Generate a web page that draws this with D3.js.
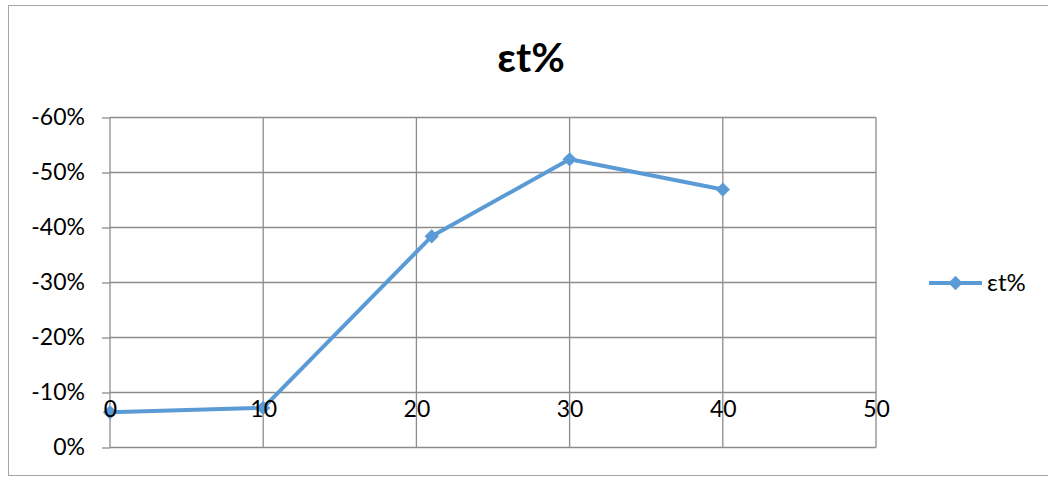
<!DOCTYPE html>
<html>
<head>
<meta charset="utf-8">
<script src="https://cdn.jsdelivr.net/npm/d3@7"></script>
<style>
  html, body { margin: 0; padding: 0; background: #fff; }
  svg { display: block; font-family: Lato, "Open Sans", sans-serif; }
</style>
</head>
<body>
<svg id="chart" width="1048" height="477"></svg>
<script>
// Strain values (εt%) against x
const xValues = [0, 10, 21, 30, 40];
const strainValues = [-0.064, -0.072, -0.384, -0.524, -0.469];
const yTicks = [0, -0.1, -0.2, -0.3, -0.4, -0.5, -0.6];
const xTicks = [0, 10, 20, 30, 40, 50];
const seriesName = "εt%";
const chartTitle = "εt%";

const svg = d3.select("#chart");
const color = "#5B9BD5";
const gridColor = "#8c8c8c";

// chart frame
svg.append("rect")
  .attr("x", 8.5).attr("y", 5.5)
  .attr("width", 1060).attr("height", 470)
  .attr("fill", "#fff").attr("stroke", "#a6a6a6").attr("stroke-width", 1);

const x = d3.scaleLinear().domain([0, 50]).range([110, 876]);
// reversed: 0% at the bottom, -60% at the top
const y = d3.scaleLinear().domain([0, -0.6]).range([447.5, 117.5]);

// gridlines
const grid = svg.append("g");
grid.selectAll("line.h").data(yTicks).join("line")
  .attr("x1", x(0)).attr("x2", x(50))
  .attr("y1", d => y(d)).attr("y2", d => y(d))
  .attr("stroke", gridColor).attr("stroke-width", 1.3);
grid.selectAll("line.v").data(xTicks).join("line")
  .attr("x1", d => x(d)).attr("x2", d => x(d))
  .attr("y1", y(-0.6)).attr("y2", y(0))
  .attr("stroke", gridColor).attr("stroke-width", 1.3);

// vertical axis
const yAxis = svg.append("g")
  .attr("transform", `translate(${x(0)},0)`)
  .call(d3.axisLeft(y).tickValues(yTicks).tickSize(8).tickPadding(17)
    .tickFormat(d3.format(".0%")));
yAxis.select(".domain").remove();
yAxis.selectAll(".tick line").attr("stroke", gridColor).attr("stroke-width", 1.3);
yAxis.selectAll(".tick text")
  .attr("font-size", 23).attr("fill", "#000")
  .attr("font-family", "Lato, 'Open Sans', sans-serif")
  .text(d => (d === 0 ? "0%" : "-" + Math.round(Math.abs(d) * 100) + "%"));

// series line
const line = d3.line().x((d, i) => x(xValues[i])).y(d => y(d));
svg.append("path")
  .datum(strainValues)
  .attr("d", line)
  .attr("fill", "none").attr("stroke", color)
  .attr("stroke-width", 4).attr("stroke-linejoin", "round");

// diamond markers
const diamond = d3.symbol().type(d3.symbolDiamond2).size(130);
svg.selectAll("path.marker").data(strainValues).join("path")
  .attr("class", "marker")
  .attr("d", diamond)
  .attr("transform", (d, i) => `translate(${x(xValues[i])},${y(d)})`)
  .attr("fill", color);

// horizontal axis labels, crossing at -10%
const xAxis = svg.append("g")
  .attr("transform", `translate(0,${y(-0.1)})`)
  .call(d3.axisBottom(x).tickValues(xTicks).tickSize(0).tickPadding(8)
    .tickFormat(d3.format("d")));
xAxis.select(".domain").remove();
xAxis.selectAll(".tick text")
  .attr("font-size", 23).attr("fill", "#000")
  .attr("font-family", "Lato, 'Open Sans', sans-serif");

// title
svg.append("text")
  .attr("x", 531).attr("y", 72)
  .attr("text-anchor", "middle")
  .attr("font-size", 41).attr("font-weight", "bold")
  .text(chartTitle);

// legend
const lg = svg.append("g").attr("transform", "translate(929,283)");
lg.append("line").attr("x1", 0).attr("x2", 53)
  .attr("stroke", color).attr("stroke-width", 4);
lg.append("path").attr("d", diamond).attr("transform", "translate(26.5,0)").attr("fill", color);
lg.append("text").attr("x", 58).attr("y", 0).attr("dy", "0.35em")
  .attr("font-size", 24).text(seriesName);
</script>
</body>
</html>
